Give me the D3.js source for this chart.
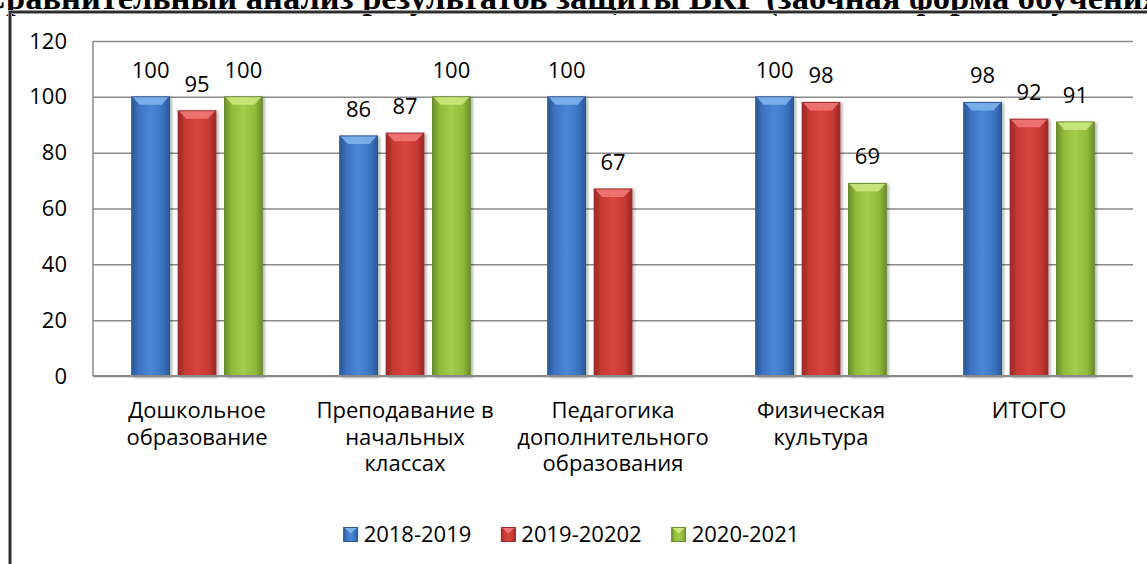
<!DOCTYPE html>
<html>
<head>
<meta charset="utf-8">
<script src="https://cdn.jsdelivr.net/npm/d3@7"></script>
<style>
  html, body { margin: 0; padding: 0; background: #fff; overflow: hidden; }
  svg { display: block; }
  text { font-family: "Open Sans", "Noto Sans", sans-serif; fill: #000; }
</style>
</head>
<body>
<script>
"use strict";
// chart values
const titleText = "Сравнительный анализ результатов защиты ВКР (заочная форма обучения)"
const categories = [
    "Дошкольное\nобразование",
    "Преподавание в\nначальных\nклассах",
    "Педагогика\nдополнительного\nобразования",
    "Физическая\nкультура",
    "ИТОГО"
]
const seriesNames = ["2018-2019", "2019-20202", "2020-2021"]
const values2018 = [100, 86, 100, 100, 98]
const values2019 = [95, 87, 67, 98, 92]
const values2020 = [100, 100, null, 69, 91]
const yTicks = [0, 20, 40, 60, 80, 100, 120]

;(function(){
    // dimensions for svg
    const measurements = {
        width: 1147,
        height: 564,
        plotLeft: 93,
        plotRight: 1133,
        plotTop: 41,
        plotBottom: 376,
        fontSize: 22
    }
    const palette = [
        { dark: "#2a5896", mid: "#3a74c0", light: "#4b87d4", bevel: "#7db2ec" },
        { dark: "#9a2825", mid: "#c53934", light: "#d8453f", bevel: "#ef7874" },
        { dark: "#6b8c2c", mid: "#8fb93a", light: "#a3cc4b", bevel: "#c9e77e" }
    ]
    const allSeries = [values2018, values2019, values2020]

    const svgContainer = d3.select('body').append("svg")
        .attr('width', measurements.width)
        .attr('height', measurements.height)

    const defs = svgContainer.append("defs")
    palette.forEach((c, i) => {
        const g = defs.append("linearGradient")
            .attr("id", "grad" + i)
            .attr("x1", "0").attr("x2", "1").attr("y1", "0").attr("y2", "0")
        g.append("stop").attr("offset", "0%").attr("stop-color", c.dark)
        g.append("stop").attr("offset", "18%").attr("stop-color", c.mid)
        g.append("stop").attr("offset", "50%").attr("stop-color", c.light)
        g.append("stop").attr("offset", "82%").attr("stop-color", c.mid)
        g.append("stop").attr("offset", "100%").attr("stop-color", c.dark)
    })
    const shadow = defs.append("filter").attr("id", "shadow")
        .attr("x", "-20%").attr("y", "-5%").attr("width", "150%").attr("height", "115%")
    shadow.append("feDropShadow")
        .attr("dx", 2).attr("dy", 1).attr("stdDeviation", 1.5)
        .attr("flood-color", "#000").attr("flood-opacity", 0.3)

    drawTitle()
    drawFrame()

    // scales
    const scaleX = d3.scaleBand()
        .domain(categories)
        .range([measurements.plotLeft, measurements.plotRight])
    const scaleSeries = d3.scaleBand()
        .domain(seriesNames)
        .range([0, scaleX.bandwidth()])
        .paddingInner(0.187)
        .paddingOuter(0.835)
    const scaleY = d3.scaleLinear()
        .domain([0, 120])
        .range([measurements.plotBottom, measurements.plotTop])

    drawAxes(scaleX, scaleY)
    plotData(scaleX, scaleSeries, scaleY)
    drawLegend()

    function drawTitle() {
        // the heading sits above the chart and is cut by the picture's edge
        const t = svgContainer.append("text")
            .attr("font-weight", "bold")
            .attr("font-size", 28)
            .style("font-family", "'Liberation Serif', serif")
            .text(titleText)
        const w = t.node().getComputedTextLength()
        const fs = 28 * 1192 / w
        t.attr("font-size", fs)
            .attr("text-anchor", "middle")
            .attr("x", 577)
            .attr("y", 8.5)
    }

    function drawFrame() {
        svgContainer.append("path")
            .attr("d", "M10,564 V12 H1147")
            .attr("fill", "none")
            .attr("stroke", "#9a9a9a")
            .attr("stroke-width", 4)
        svgContainer.append("path")
            .attr("d", "M10,564 V12 H1147")
            .attr("fill", "none")
            .attr("stroke", "#2e2e2e")
            .attr("stroke-width", 2)
    }

    function drawAxes(scaleX, scaleY) {
        const plotWidth = measurements.plotRight - measurements.plotLeft
        const yAxis = d3.axisLeft(scaleY)
            .tickValues(yTicks)
            .tickSize(-plotWidth)
            .tickPadding(26)

        const gy = svgContainer.append('g')
            .attr('transform', `translate(${measurements.plotLeft},0)`)
            .call(yAxis)
        gy.select(".domain").remove()
        gy.selectAll(".tick line")
            .attr("stroke", "#8a8a8a")
            .attr("stroke-width", 1.5)
        gy.selectAll(".tick text")
            .attr("font-size", measurements.fontSize)
            .attr("font-family", null)
            .attr("fill", "#000")

        // value axis line
        svgContainer.append("line")
            .attr("x1", measurements.plotLeft).attr("x2", measurements.plotLeft)
            .attr("y1", scaleY(120)).attr("y2", scaleY(0))
            .attr("stroke", "#8a8a8a")
            .attr("stroke-width", 1.5)

        // category labels
        const gx = svgContainer.append("g")
        categories.forEach((c) => {
            const lines = c.split("\n")
            const t = gx.append("text")
                .attr("text-anchor", "middle")
                .attr("font-size", measurements.fontSize)
            lines.forEach((ln, i) => {
                t.append("tspan")
                    .attr("x", scaleX(c) + scaleX.bandwidth() / 2)
                    .attr("y", measurements.plotBottom + 42 + i * 26.5)
                    .text(ln)
            })
        })
    }

    function plotData(scaleX, scaleSeries, scaleY) {
        const rows = []
        categories.forEach((c, ci) => {
            seriesNames.forEach((s, si) => {
                const v = allSeries[si][ci]
                if (v !== null) rows.push({ cat: c, series: s, si: si, value: v })
            })
        })
        const bw = scaleSeries.bandwidth()
        const bars = svgContainer.selectAll(".bar")
            .data(rows)
            .enter()
            .append("g")
                .attr("class", "bar")

        bars.append("rect")
            .attr("x", (d) => scaleX(d.cat) + scaleSeries(d.series))
            .attr("y", (d) => scaleY(d.value))
            .attr("width", bw)
            .attr("height", (d) => scaleY(0) - scaleY(d.value))
            .attr("fill", (d) => `url(#grad${d.si})`)
            .attr("stroke", (d) => palette[d.si].dark)
            .attr("stroke-width", 1)
            .attr("filter", "url(#shadow)")

        // bevel on top of each bar
        bars.append("path")
            .attr("d", (d) => {
                const x = scaleX(d.cat) + scaleSeries(d.series)
                const y = scaleY(d.value)
                return `M${x + 1},${y + 0.5} H${x + bw - 1} L${x + bw - 8},${y + 8} H${x + 8} Z`
            })
            .attr("fill", (d) => palette[d.si].bevel)
            .attr("opacity", 0.9)

        bars.append("text")
            .attr("x", (d) => scaleX(d.cat) + scaleSeries(d.series) + bw / 2)
            .attr("y", (d) => scaleY(d.value) - 19)
            .attr("text-anchor", "middle")
            .attr("font-size", measurements.fontSize)
            .text((d) => d.value)

        // baseline over the bars
        svgContainer.append("line")
            .attr("x1", measurements.plotLeft).attr("x2", measurements.plotRight)
            .attr("y1", scaleY(0)).attr("y2", scaleY(0))
            .attr("stroke", "#8a8a8a")
            .attr("stroke-width", 2)
    }

    function drawLegend() {
        const box = 14
        const gap = 6
        const itemGap = 30
        const g = svgContainer.append("g")
        let x = 0
        seriesNames.forEach((s, i) => {
            const item = g.append("g").attr("transform", `translate(${x},0)`)
            item.append("rect")
                .attr("x", 0).attr("y", -box / 2)
                .attr("width", box).attr("height", box)
                .attr("fill", `url(#grad${i})`)
                .attr("stroke", palette[i].dark)
            item.append("path")
                .attr("d", `M1,${-box / 2 + 0.5} H${box - 1} L${box / 2},${-box / 2 + 6} Z`)
                .attr("fill", palette[i].bevel)
            const t = item.append("text")
                .attr("x", box + gap)
                .attr("y", 0)
                .attr("dy", "0.36em")
                .attr("font-size", measurements.fontSize)
                .text(s)
            x += box + gap + t.node().getComputedTextLength() + itemGap
        })
        const total = x - itemGap
        g.attr("transform", `translate(${571.5 - total / 2},534.5)`)
    }
})()
</script>
</body>
</html>
